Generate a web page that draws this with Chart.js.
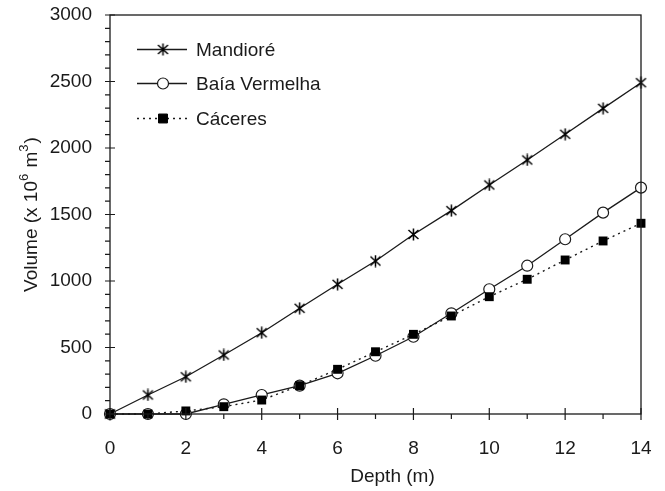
<!DOCTYPE html>
<html>
<head>
<meta charset="utf-8">
<script src="https://cdn.jsdelivr.net/npm/chart.js@4/dist/chart.umd.min.js"></script>
<style>
  html, body { margin: 0; padding: 0; background: #fff; }
  #wrap { width: 665px; height: 491px; }
</style>
</head>
<body>
<div id="wrap"><canvas id="c" width="665" height="491"></canvas></div>
<script>
const depth = [0, 1, 2, 3, 4, 5, 6, 7, 8, 9, 10, 11, 12, 13, 14];
const mandiore = [0, 143, 280, 444, 611, 795, 975, 1150, 1350, 1529, 1722, 1910, 2103, 2298, 2491];
const baiaVermelha = [0, 0, 0, 73, 143, 213, 306, 438, 581, 757, 938, 1115, 1314, 1514, 1702];
const caceres = [0, 0, 23, 55, 105, 213, 336, 468, 599, 737, 882, 1013, 1158, 1301, 1434];
const seriesNames = ['Mandioré', 'Baía Vermelha', 'Cáceres'];
const xTickLabels = ['0', '2', '4', '6', '8', '10', '12', '14'];
const yTickLabels = ['0', '500', '1000', '1500', '2000', '2500', '3000'];

const INK = '#1a1a1a';
const FONT = '"Liberation Sans", Arial, sans-serif';

function makeAsterisk() {
  const c = document.createElement('canvas');
  c.width = 13; c.height = 13;
  const g = c.getContext('2d');
  g.strokeStyle = '#000'; g.lineWidth = 1.5;
  g.beginPath();
  g.moveTo(1.5, 2); g.lineTo(11.5, 11);
  g.moveTo(11.5, 2); g.lineTo(1.5, 11);
  g.moveTo(6.5, 0.5); g.lineTo(6.5, 12.5);
  g.stroke();
  return c;
}
const asterisk = makeAsterisk();

function toXY(vals) { return depth.map((d, i) => ({ x: d, y: vals[i] })); }

const datasets = [
  { label: seriesNames[0], data: toXY(mandiore), borderColor: INK, borderWidth: 1.3,
    pointStyle: asterisk, pointRadius: 6, pointBackgroundColor: INK, pointBorderColor: INK,
    order: 2, clip: false, tension: 0 },
  { label: seriesNames[1], data: toXY(baiaVermelha), borderColor: INK, borderWidth: 1.3,
    pointStyle: 'circle', pointRadius: 5.5, pointBackgroundColor: '#fff', pointBorderColor: INK, pointBorderWidth: 1.2,
    order: 1, clip: false, tension: 0 },
  { label: seriesNames[2], data: toXY(caceres), borderColor: INK, borderWidth: 1.4, borderDash: [2, 4],
    pointStyle: 'rect', pointRadius: 6.3, pointBackgroundColor: '#000', pointBorderColor: '#000', pointBorderWidth: 0,
    order: 0, clip: false, tension: 0 }
];

const decor = {
  id: 'decor',
  afterDraw(chart) {
    const ctx = chart.ctx;
    const a = chart.chartArea;
    const xs = chart.scales.x, ys = chart.scales.y;
    ctx.save();
    ctx.strokeStyle = INK;
    ctx.lineWidth = 1.3;
    ctx.strokeRect(a.left, a.top, a.right - a.left, a.bottom - a.top);
    ctx.lineWidth = 1.2;
    ctx.beginPath();
    xs.ticks.forEach(t => {
      const px = xs.getPixelForValue(t.value);
      const major = xTickLabels.includes(String(t.value));
      if (major) { ctx.moveTo(px, a.bottom - 6); ctx.lineTo(px, a.bottom + 6); }
      else { ctx.moveTo(px, a.bottom); ctx.lineTo(px, a.bottom + 5); }
    });
    ys.ticks.forEach(t => {
      const py = ys.getPixelForValue(t.value);
      const major = yTickLabels.includes(String(t.value));
      if (major) { ctx.moveTo(a.left - 5, py); ctx.lineTo(a.left + 5, py); }
      else { ctx.moveTo(a.left - 5, py); ctx.lineTo(a.left, py); }
    });
    ctx.stroke();

    // Legend
    const lx0 = a.left + 27, lx1 = a.left + 77, mx = a.left + 53, tx = a.left + 86;
    const rows = [a.top + 34.5, a.top + 68.5, a.top + 103.5];
    chart.data.datasets.forEach((ds, i) => {
      const y = rows[i];
      ctx.save();
      ctx.strokeStyle = INK;
      ctx.lineWidth = ds.borderWidth;
      ctx.setLineDash(ds.borderDash || []);
      ctx.beginPath(); ctx.moveTo(lx0, y); ctx.lineTo(lx1, y); ctx.stroke();
      ctx.restore();
      ctx.save();
      ctx.fillStyle = ds.pointBackgroundColor;
      ctx.strokeStyle = ds.pointBorderColor;
      ctx.lineWidth = ds.pointBorderWidth || 1;
      Chart.helpers.drawPoint(ctx, { pointStyle: ds.pointStyle, rotation: 0, radius: ds.pointRadius, borderWidth: ds.pointBorderWidth || 1 }, mx, y);
      ctx.restore();
      ctx.fillStyle = INK;
      ctx.font = '19px ' + FONT;
      ctx.textAlign = 'left';
      ctx.textBaseline = 'middle';
      ctx.fillText(ds.label, tx, y + 1);
    });

    // X title
    ctx.fillStyle = INK;
    ctx.font = '19px ' + FONT;
    ctx.textAlign = 'center';
    ctx.textBaseline = 'middle';
    ctx.fillText('Depth (m)', (a.left + a.right) / 2 + 17, 477);

    // Y title with superscripts
    const parts = [
      { t: 'Volume (x 10', s: false },
      { t: '6', s: true },
      { t: ' m', s: false },
      { t: '3', s: true },
      { t: ')', s: false }
    ];
    const big = '19px ' + FONT, small = '13px ' + FONT;
    let total = 0;
    parts.forEach(p => { ctx.font = p.s ? small : big; p.w = ctx.measureText(p.t).width + (p.s ? 1 : 0); total += p.w; });
    ctx.translate(37, (a.top + a.bottom) / 2);
    ctx.rotate(-Math.PI / 2);
    ctx.textAlign = 'left';
    ctx.textBaseline = 'alphabetic';
    let cx = -total / 2;
    parts.forEach(p => {
      ctx.font = p.s ? small : big;
      ctx.fillText(p.t, cx, p.s ? -9 : 0);
      cx += p.w;
    });
    ctx.restore();
  }
};

function zeroPad(s) { s.paddingTop = 0; s.paddingBottom = 0; s.paddingLeft = 0; s.paddingRight = 0; }

new Chart(document.getElementById('c'), {
  type: 'line',
  data: { datasets },
  options: {
    responsive: false,
    animation: false,
    devicePixelRatio: 1,
    layout: { autoPadding: false, padding: { top: 15, right: 24, left: 0, bottom: 0 } },
    plugins: { legend: { display: false }, tooltip: { enabled: false } },
    scales: {
      x: {
        type: 'linear', min: 0, max: 14,
        grid: { display: false, drawTicks: false },
        border: { display: false },
        ticks: {
          stepSize: 1, autoSkip: false, maxRotation: 0, padding: 23,
          color: INK, font: { family: FONT, size: 19 },
          callback: v => xTickLabels.includes(String(v)) ? String(v) : ''
        },
        afterFit: s => { s.height = 77; zeroPad(s); }
      },
      y: {
        type: 'linear', min: 0, max: 3000,
        grid: { display: false, drawTicks: false },
        border: { display: false },
        ticks: {
          stepSize: 100, autoSkip: false, padding: 18,
          color: INK, font: { family: FONT, size: 19 },
          callback: v => yTickLabels.includes(String(v)) ? String(v) : ''
        },
        afterFit: s => { s.width = 110; zeroPad(s); }
      }
    }
  },
  plugins: [decor]
});
</script>
</body>
</html>
